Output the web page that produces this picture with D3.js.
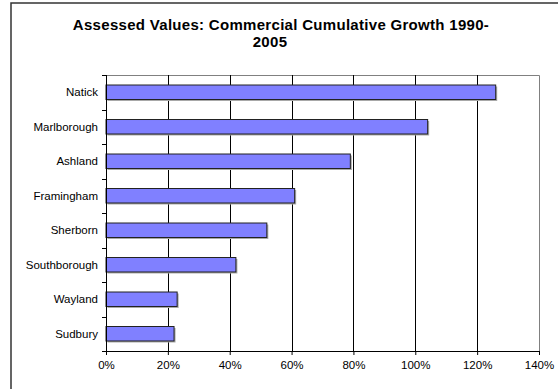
<!DOCTYPE html>
<html>
<head>
<meta charset="utf-8">
<script src="https://cdn.jsdelivr.net/npm/d3@7/dist/d3.min.js"></script>
<style>
  html, body { margin: 0; padding: 0; background: #fff; }
  svg { display: block; font-family: "Liberation Sans", Arial, sans-serif; }
</style>
</head>
<body>
<svg id="chart" width="558" height="389"></svg>
<script>
// Towns, top to bottom, and their cumulative commercial growth (fraction)
const towns = ["Natick", "Marlborough", "Ashland", "Framingham", "Sherborn", "Southborough", "Wayland", "Sudbury"];
const growth = [1.26, 1.04, 0.79, 0.61, 0.52, 0.42, 0.23, 0.22];
const xTicks = [0, 0.2, 0.4, 0.6, 0.8, 1.0, 1.2, 1.4];
const titleLines = ["Assessed Values: Commercial Cumulative Growth 1990-", "2005"];

const svg = d3.select("#chart");
const plot = { left: 106, right: 539, top: 75, bottom: 351 };

// Outer chart frame
svg.append("rect")
  .attr("x", 11).attr("y", 3)
  .attr("width", 560).attr("height", 400)
  .attr("fill", "#fff")
  .attr("stroke", "#333").attr("stroke-width", 1.5);

// Title
svg.append("text")
  .attr("x", 281).attr("y", 30)
  .attr("text-anchor", "middle")
  .attr("font-size", 15).attr("font-weight", "bold")
  .attr("letter-spacing", 0.3)
  .text(titleLines[0]);
svg.append("text")
  .attr("x", 270).attr("y", 47)
  .attr("text-anchor", "middle")
  .attr("font-size", 15).attr("font-weight", "bold")
  .attr("letter-spacing", 0.3)
  .text(titleLines[1]);

const x = d3.scaleLinear().domain([0, 1.4]).range([plot.left, plot.right]);
const y = d3.scaleBand().domain(towns).range([plot.top, plot.bottom]).paddingInner(0.58).paddingOuter(0.29);
const yb = d3.scaleBand().domain(towns).range([plot.top, plot.bottom]);

// Plot border (top and right in gray)
svg.append("path")
  .attr("d", `M${plot.left},${plot.top + 0.5}H${plot.right + 0.5}V${plot.bottom}`)
  .attr("fill", "none").attr("stroke", "#808080").attr("stroke-width", 1);

// Vertical gridlines
svg.append("g").selectAll("line")
  .data(xTicks.filter(d => d > 0 && d < 1.4))
  .join("line")
  .attr("x1", d => Math.round(x(d)) + 0.5).attr("x2", d => Math.round(x(d)) + 0.5)
  .attr("y1", plot.top).attr("y2", plot.bottom)
  .attr("stroke", "#000").attr("stroke-width", 1);

// Bar shadows
svg.append("g").selectAll("rect")
  .data(towns)
  .join("rect")
  .attr("x", x(0) + 1.5)
  .attr("y", d => y(d) + 1.5)
  .attr("width", (d, i) => x(growth[i]) - x(0))
  .attr("height", y.bandwidth())
  .attr("fill", "#a8a8a8");

// Bars
svg.append("g").selectAll("rect")
  .data(towns)
  .join("rect")
  .attr("x", x(0))
  .attr("y", d => y(d))
  .attr("width", (d, i) => x(growth[i]) - x(0))
  .attr("height", y.bandwidth())
  .attr("fill", "#8080ff")
  .attr("stroke", "#222").attr("stroke-width", 1);

// Category axis with ticks at band boundaries
const yAxisG = svg.append("g");
yAxisG.append("line")
  .attr("x1", plot.left + 0.5).attr("x2", plot.left + 0.5)
  .attr("y1", plot.top).attr("y2", plot.bottom)
  .attr("stroke", "#000");
const bounds = towns.map(t => yb(t)).concat([plot.bottom]);
yAxisG.selectAll("line.tick")
  .data(bounds)
  .join("line").attr("class", "tick")
  .attr("x1", plot.left - 4).attr("x2", plot.left)
  .attr("y1", d => Math.round(d) + 0.5).attr("y2", d => Math.round(d) + 0.5)
  .attr("stroke", "#000");
yAxisG.selectAll("text")
  .data(towns)
  .join("text")
  .attr("x", plot.left - 8)
  .attr("y", d => yb(d) + yb.bandwidth() / 2)
  .attr("dy", "0.35em")
  .attr("text-anchor", "end")
  .attr("font-size", 11.5)
  .text(d => d);

// Value axis
const xAxis = d3.axisBottom(x)
  .tickValues(xTicks)
  .tickFormat(d3.format(".0%"))
  .tickSize(4)
  .tickPadding(6)
  .tickSizeOuter(0);
const xg = svg.append("g")
  .attr("transform", `translate(0,${plot.bottom})`)
  .call(xAxis);
xg.select(".domain").attr("stroke", "#000");
xg.selectAll("text").attr("font-size", 11.5).attr("font-family", "Liberation Sans, Arial, sans-serif").attr("fill", "#000");
</script>
</body>
</html>
